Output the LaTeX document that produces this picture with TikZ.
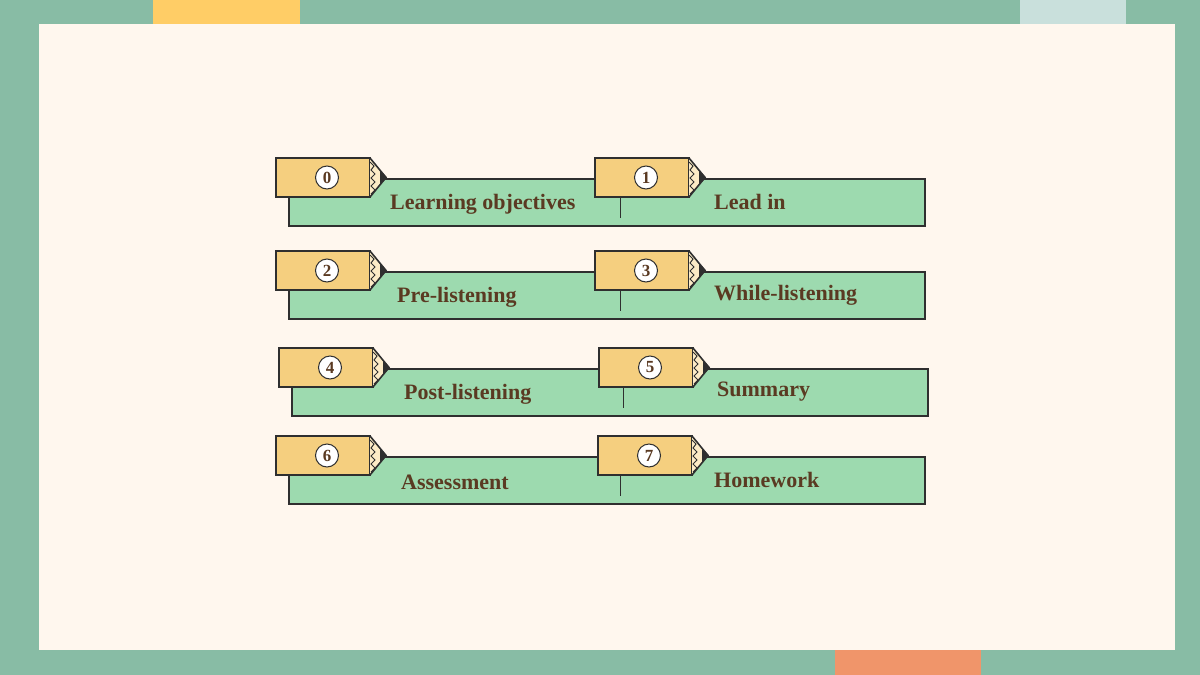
\documentclass[tikz,border=0pt]{standalone}
\usepackage{fontspec}
\setmainfont{Liberation Serif}
\usetikzlibrary{positioning}
\definecolor{frameG}{HTML}{88BCA5}
\definecolor{paper}{HTML}{FFF7EE}
\definecolor{barG}{HTML}{9DDAAF}
\definecolor{pencilY}{HTML}{F5CF7F}
\definecolor{coneY}{HTML}{FCEBC6}
\definecolor{lineD}{HTML}{2F2F2F}
\definecolor{txtB}{HTML}{5A3A22}
\definecolor{tabY}{HTML}{FFCD66}
\definecolor{tabL}{HTML}{C9E0DC}
\definecolor{tabO}{HTML}{F0956A}
\tikzset{
  bar/.style={fill=barG,draw=lineD,line width=1.6pt},
  body/.style={fill=pencilY,draw=lineD,line width=1.6pt},
  num/.style={circle,draw=lineD,fill=white,line width=1pt,inner sep=0pt,minimum size=23pt,
    font=\fontsize{17}{17}\selectfont\bfseries,text=txtB},
  lbl/.style={font=\fontsize{22}{26}\selectfont\bfseries,text=txtB,anchor=west,inner sep=0pt}
}
% pencil: #1 x, #2 y, #3 number, #4 node name
\newcommand{\pencil}[4]{%
  \draw[body] (#1,#2) rectangle ++(94,39);
  \fill[coneY] (#1+94,#2) -- (#1+110,#2+19.5) -- (#1+94,#2+39) -- cycle;
  \draw[lineD,line width=1.6pt,line join=round] (#1+94,#2) -- (#1+110,#2+19.5) -- (#1+94,#2+39);
  \fill[lineD] (#1+104,#2+12.5) -- (#1+111,#2+19.5) -- (#1+104,#2+26.5) -- cycle;
  \draw[lineD,line width=1pt] (#1+94,#2+4) -- (#1+98,#2+8) -- (#1+95,#2+12) -- (#1+99,#2+16)
    -- (#1+95,#2+20) -- (#1+99,#2+24) -- (#1+95,#2+28) -- (#1+99,#2+32) -- (#1+95,#2+36);
  \node[num] (#4) at (#1+51,#2+19.5) {#3};
}
\begin{document}
\begin{tikzpicture}[x=1pt,y=-1pt]
  \fill[frameG] (0,0) rectangle (1200,675);
  \fill[paper] (39,24) rectangle (1175,650);
  \fill[tabY] (153,0) rectangle (300,24);
  \fill[tabL] (1020,0) rectangle (1126,24);
  \fill[tabO] (835,650) rectangle (981,675);
  % rows: bar shift / right pencil x / pencil top / left label x / labels / numbers / name
  \foreach \dx/\px/\y/\lx/\a/\b/\na/\nb/\i in {0/595/158/390/Learning objectives/Lead in/0/1/r0,
      0/595/251/397/Pre-listening/While-listening/2/3/r1,
      3/599/348/404/Post-listening/Summary/4/5/r2,
      0/598/436/401/Assessment/Homework/6/7/r3}{
    \draw[bar] (289+\dx,\y+21) rectangle (925+\dx,\y+68);
    \draw[lineD,line width=1pt] (620+\dx,\y+39) -- (620+\dx,\y+60);
    \pencil{276+\dx}{\y}{\na}{\i a}
    \pencil{\px}{\y}{\nb}{\i b}
    \node[lbl] (\i la) at (\lx,\y+46) {\a};
    \node[lbl] (\i lb) at (714+\dx,\y+44) {\b};
  }
\end{tikzpicture}
\end{document}
